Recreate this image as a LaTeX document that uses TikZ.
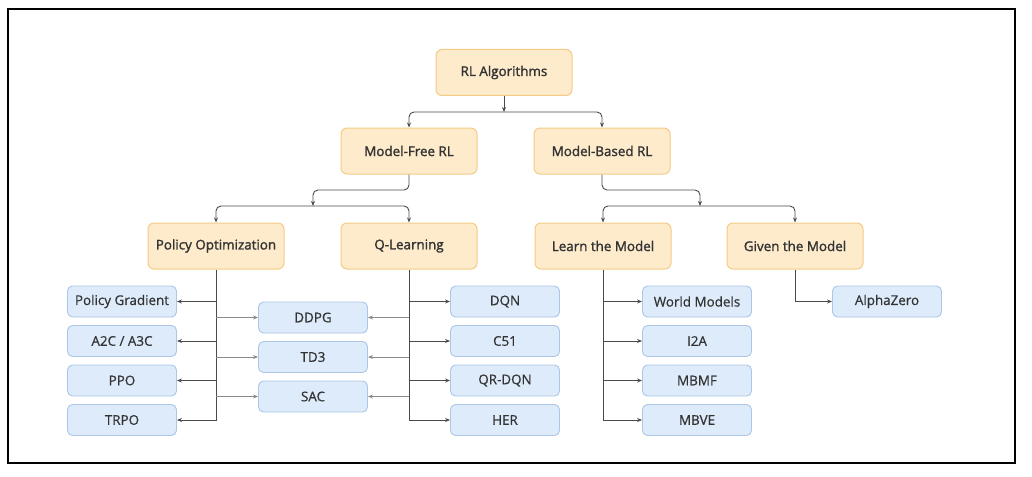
\documentclass[tikz,border=0pt]{standalone}
\usepackage{fontspec}
\setmainfont{Open Sans}
\newfontfamily\semib{Open Sans}[FakeBold=1.6]
\newfontfamily\medf{Open Sans}[FakeBold=0.6]
\usetikzlibrary{arrows.meta}
\definecolor{ofill}{HTML}{FDEBCB}
\definecolor{odraw}{HTML}{F5CB85}
\definecolor{bfill}{HTML}{DDEBFB}
\definecolor{bdraw}{HTML}{ABC6E6}
\definecolor{txt}{HTML}{333333}
\definecolor{ln}{HTML}{4A4A4A}
\definecolor{lng}{HTML}{8A8A8A}
\tikzset{
  obox/.style={rectangle, rounded corners=6pt, minimum width=136pt, minimum height=46pt, fill=ofill, draw=odraw, line width=1pt, text=txt, font=\semib\fontsize{13.4}{15}\selectfont, inner sep=0pt},
  bbox/.style={rectangle, rounded corners=5pt, minimum width=109pt, minimum height=31pt, fill=bfill, draw=bdraw, line width=0.9pt, text=txt, font=\medf\fontsize{13.4}{15}\selectfont, inner sep=0pt},
  arr/.style={draw=ln, line width=0.9pt, -{Stealth[length=5pt,width=4pt]}},
  arrg/.style={draw=lng, line width=0.8pt, -{Stealth[length=5pt,width=4pt]}},
  frame/.style={draw=black, line width=1.3pt}
}
\begin{document}
\begin{tikzpicture}[x=1pt,y=-1pt]
\useasboundingbox (0,0) rectangle (1032,476);
\draw[frame] (8,9) rectangle (1015,463);
% top level
\node[obox] (root) at (504,72.5) {RL Algorithms};
\node[obox] (mf) at (409,151) {Model-Free RL};
\node[obox] (mb) at (602,151) {Model-Based RL};
\node[obox] (po) at (216,246) {Policy Optimization};
\node[obox] (ql) at (409,246) {Q-Learning};
\node[obox] (lm) at (603,246) {Learn the Model};
\node[obox] (gm) at (795,246) {Given the Model};
% leaves
\node[bbox] (pg) at (122,301.5) {Policy Gradient};
\node[bbox] (a2c) at (122,341) {A2C / A3C};
\node[bbox] (ppo) at (122,380.5) {PPO};
\node[bbox] (trpo) at (122,420) {TRPO};
\node[bbox] (ddpg) at (313,317.5) {DDPG};
\node[bbox] (td3) at (313,357) {TD3};
\node[bbox] (sac) at (313,396.5) {SAC};
\node[bbox] (dqn) at (505,301.5) {DQN};
\node[bbox] (c51) at (505,341) {C51};
\node[bbox] (qrdqn) at (505,380.5) {QR-DQN};
\node[bbox] (her) at (505,420) {HER};
\node[bbox] (wm) at (697,301.5) {World Models};
\node[bbox] (i2a) at (697,341) {I2A};
\node[bbox] (mbmf) at (697,380.5) {MBMF};
\node[bbox] (mbve) at (697,420) {MBVE};
\node[bbox] (az) at (887,301.5) {AlphaZero};
% junctions
\coordinate (j0) at (504,112);
\coordinate (k1) at (313,190);
\coordinate (j1) at (313,206);
\coordinate (k2) at (700,190);
\coordinate (j2) at (700,206);
% top connectors
\draw[arr] (root.south) -- (j0);
\draw[arr, rounded corners=5pt] (j0) -| (mf.north);
\draw[arr, rounded corners=5pt] (j0) -| (mb.north);
\draw[arr, rounded corners=5pt] (mf.south) |- (k1) -- (j1);
\draw[arr, rounded corners=5pt] (j1) -| (po.north);
\draw[arr, rounded corners=5pt] (j1) -| (ql.north);
\draw[arr, rounded corners=5pt] (mb.south) |- (k2) -- (j2);
\draw[arr, rounded corners=5pt] (j2) -| (lm.north);
\draw[arr, rounded corners=5pt] (j2) -| (gm.north);
% policy optimization
\draw[arr] (po.south) |- (trpo.east);
\draw[arr] (po.south |- pg.east) -- (pg.east);
\draw[arr] (po.south |- a2c.east) -- (a2c.east);
\draw[arr] (po.south |- ppo.east) -- (ppo.east);
\draw[arrg] (po.south |- ddpg.west) -- (ddpg.west);
\draw[arrg] (po.south |- td3.west) -- (td3.west);
\draw[arrg] (po.south |- sac.west) -- (sac.west);
% q-learning
\draw[arr] (ql.south) |- (her.west);
\draw[arr] (ql.south |- dqn.west) -- (dqn.west);
\draw[arr] (ql.south |- c51.west) -- (c51.west);
\draw[arr] (ql.south |- qrdqn.west) -- (qrdqn.west);
\draw[arrg] (ql.south |- ddpg.east) -- (ddpg.east);
\draw[arrg] (ql.south |- td3.east) -- (td3.east);
\draw[arrg] (ql.south |- sac.east) -- (sac.east);
% learn the model
\draw[arr] (lm.south) |- (mbve.west);
\draw[arr] (lm.south |- wm.west) -- (wm.west);
\draw[arr] (lm.south |- i2a.west) -- (i2a.west);
\draw[arr] (lm.south |- mbmf.west) -- (mbmf.west);
% given the model
\draw[arr] (gm.south) |- (az.west);
\end{tikzpicture}
\end{document}
